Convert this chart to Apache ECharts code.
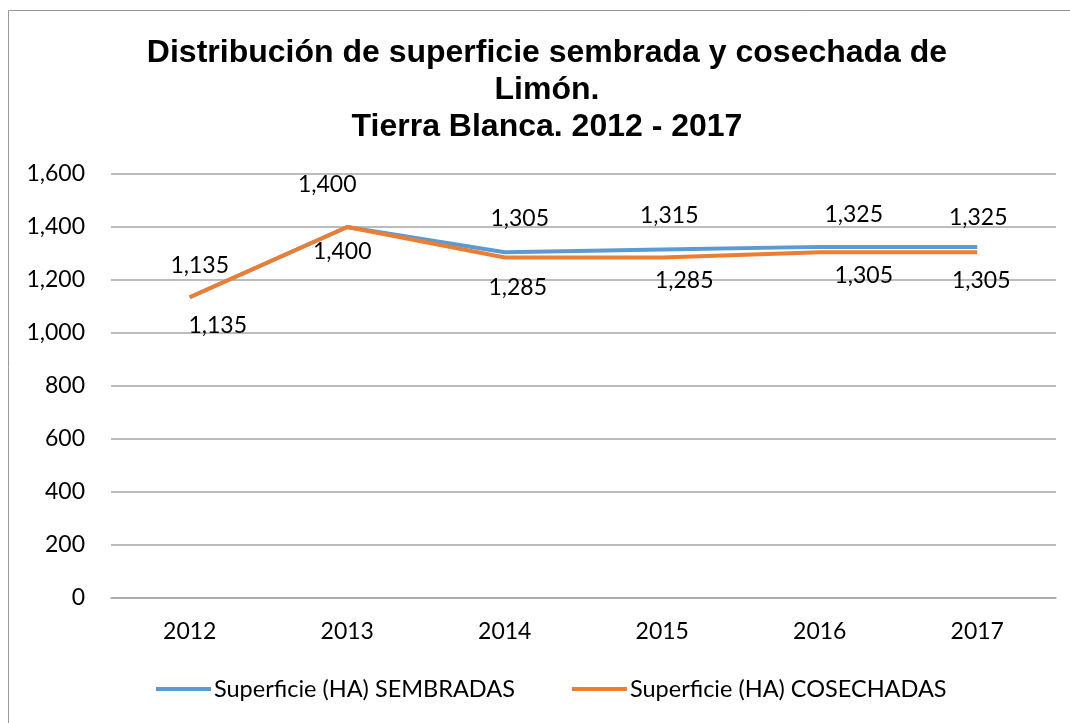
<!DOCTYPE html>
<html>
<head>
<meta charset="utf-8">
<script src="https://cdn.jsdelivr.net/npm/echarts@6/dist/echarts.min.js"></script>
<style>
html,body{margin:0;padding:0;background:#fff;}
#chart{width:1070px;height:723px;}
</style>
</head>
<body>
<div id="chart"></div>
<script>
const categories = ['2012', '2013', '2014', '2015', '2016', '2017'];
const sembradas = [1135, 1400, 1305, 1315, 1325, 1325];
const cosechadas = [1135, 1400, 1285, 1285, 1305, 1305];
const seriesNames = ['Superficie (HA) SEMBRADAS', 'Superficie (HA) COSECHADAS'];
const titleLines = ['Distribución de superficie sembrada y cosechada de', 'Limón.', 'Tierra Blanca. 2012 - 2017'];

// label nudges (layout only)
const sembOff = [[10, -32], [-20, -42], [15, -34], [7, -34], [34, -32], [1, -29]];
const coseOff = [[28, 28], [-5, 25], [13, 30], [22, 23], [44, 23], [4, 28]];

const chart = echarts.init(document.getElementById('chart'), null, {renderer: 'canvas'});
const labelFont = {fontFamily: 'Lato', fontSize: 23, color: '#000'};

function mkData(vals, offs) {
  return vals.map((v, i) => ({
    value: v,
    label: {show: true, position: [0, 0], offset: offs[i], align: 'center', verticalAlign: 'middle'}
  }));
}
const fmt = v => Number(v).toLocaleString('en-US');

chart.setOption({
  animation: false,
  backgroundColor: '#fff',
  graphic: [{
    type: 'rect', shape: {x: 8.5, y: 10.5, width: 1100, height: 800},
    style: {fill: 'none', stroke: '#999', lineWidth: 1}, silent: true
  }],
  title: {
    text: titleLines.join('\n'),
    left: 542, top: 30, textAlign: 'center',
    textStyle: {fontFamily: 'Liberation Sans', fontWeight: 'bold', fontSize: 32, lineHeight: 37, color: '#000'}
  },
  grid: {left: 111, right: 14, top: 174, bottom: 125, containLabel: false},
  legend: {
    top: 672, left: 151, itemWidth: 55, itemHeight: 4, itemGap: 57,
    icon: 'rect',
    textStyle: {fontFamily: 'Lato', fontSize: 23.5, color: '#000', padding: [0, 0, 0, -2]},
    data: seriesNames
  },
  xAxis: {
    type: 'category', data: categories, boundaryGap: true,
    axisLine: {lineStyle: {color: '#a6a6a6', width: 1.5}},
    axisTick: {show: false},
    axisLabel: Object.assign({margin: 22}, labelFont)
  },
  yAxis: {
    type: 'value', min: 0, max: 1600, interval: 200,
    axisLine: {show: false}, axisTick: {show: false},
    splitLine: {lineStyle: {color: '#a6a6a6', width: 1.5}},
    axisLabel: Object.assign({margin: 26, formatter: fmt}, labelFont)
  },
  series: [
    {
      name: seriesNames[0], type: 'line', data: mkData(sembradas, sembOff),
      symbol: 'circle', symbolSize: 0.1, showSymbol: true,
      lineStyle: {color: '#5b9bd5', width: 4}, itemStyle: {color: '#5b9bd5'},
      label: Object.assign({show: true, formatter: p => fmt(p.value)}, labelFont)
    },
    {
      name: seriesNames[1], type: 'line', data: mkData(cosechadas, coseOff),
      symbol: 'circle', symbolSize: 0.1, showSymbol: true,
      lineStyle: {color: '#ed7d31', width: 4}, itemStyle: {color: '#ed7d31'},
      label: Object.assign({show: true, formatter: p => fmt(p.value)}, labelFont)
    }
  ]
});
</script>
</body>
</html>
